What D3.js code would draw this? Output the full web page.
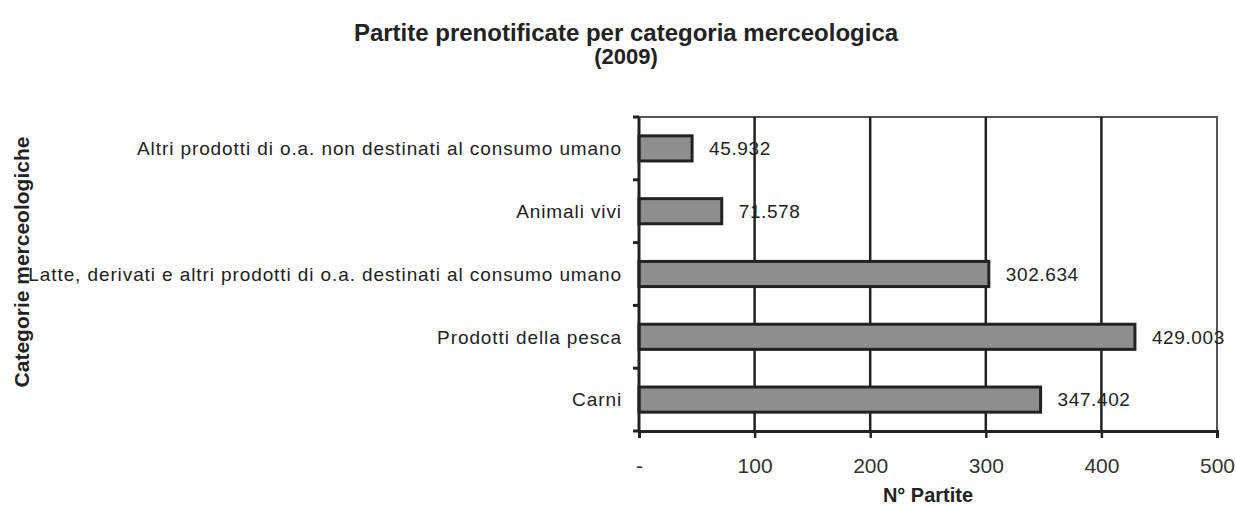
<!DOCTYPE html>
<html>
<head>
<meta charset="utf-8">
<script src="https://cdn.jsdelivr.net/npm/d3@7"></script>
<style>
  body { margin: 0; background: #fff; }
  svg { font-family: "Liberation Sans", Arial, sans-serif; }
</style>
</head>
<body>
<div id="chart"></div>
<script>
// categories top to bottom, values in thousands of consignments
const categories = [
  'Altri prodotti di o.a. non destinati al consumo umano',
  'Animali vivi',
  'Latte, derivati e altri prodotti di o.a. destinati al consumo umano',
  'Prodotti della pesca',
  'Carni'
]
const values = [45.932, 71.578, 302.634, 429.003, 347.402]
const valueLabels = ['45.932', '71.578', '302.634', '429.003', '347.402']
const xTicks = [0, 100, 200, 300, 400, 500]
const xTickLabels = ['-', '100', '200', '300', '400', '500']

const width = 1236
const height = 508
const margin = { top: 117, right: 19, bottom: 77, left: 639 }
const ink = '#222'

const svg = d3.select('#chart')
  .append('svg')
  .attr('width', width)
  .attr('height', height)

const x = d3.scaleLinear()
  .domain([0, 500])
  .range([margin.left, width - margin.right])

const y = d3.scaleBand()
  .domain(categories)
  .range([margin.top, height - margin.bottom])
  .paddingInner(0.6)
  .paddingOuter(0.3)

const yEdges = d3.scaleBand()
  .domain(categories)
  .range([margin.top, height - margin.bottom])

// title
svg.append('text')
  .attr('x', 626)
  .attr('y', 41)
  .attr('text-anchor', 'middle')
  .attr('font-size', 24)
  .attr('font-weight', 'bold')
  .attr('fill', ink)
  .text('Partite prenotificate per categoria merceologica')

svg.append('text')
  .attr('x', 626)
  .attr('y', 64)
  .attr('text-anchor', 'middle')
  .attr('font-size', 22)
  .attr('font-weight', 'bold')
  .attr('fill', ink)
  .text('(2009)')

// plot frame
svg.append('rect')
  .attr('x', x(0))
  .attr('y', margin.top)
  .attr('width', x(500) - x(0))
  .attr('height', height - margin.bottom - margin.top)
  .attr('fill', 'none')
  .attr('stroke', '#555')
  .attr('stroke-width', 2)

// vertical gridlines
svg.append('g')
  .selectAll('line')
  .data(xTicks.slice(1, -1))
  .enter().append('line')
  .attr('x1', d => x(d))
  .attr('x2', d => x(d))
  .attr('y1', margin.top)
  .attr('y2', height - margin.bottom)
  .attr('stroke', ink)
  .attr('stroke-width', 2.5)

// bars
svg.append('g')
  .selectAll('rect')
  .data(values)
  .enter().append('rect')
  .attr('x', x(0))
  .attr('y', (d, i) => y(categories[i]))
  .attr('width', d => x(d) - x(0))
  .attr('height', y.bandwidth())
  .attr('fill', '#8e8e8e')
  .attr('stroke', ink)
  .attr('stroke-width', 3)

// value labels
svg.append('g')
  .selectAll('text')
  .data(values)
  .enter().append('text')
  .attr('x', d => x(d) + 17)
  .attr('y', (d, i) => y(categories[i]) + y.bandwidth() / 2)
  .attr('dy', '0.36em')
  .attr('font-size', 19)
  .attr('letter-spacing', 0.6)
  .attr('fill', ink)
  .text((d, i) => valueLabels[i])

// x axis
const xAxis = svg.append('g')
  .attr('transform', `translate(0,${height - margin.bottom})`)
  .call(d3.axisBottom(x)
    .tickValues(xTicks)
    .tickFormat((d, i) => xTickLabels[i])
    .tickSize(7)
    .tickPadding(20))

xAxis.select('.domain').attr('stroke', ink).attr('stroke-width', 3)
xAxis.selectAll('.tick line').attr('stroke', ink).attr('stroke-width', 2.5)
xAxis.selectAll('.tick text')
  .attr('font-size', 21)
  .attr('font-family', '"Liberation Sans", Arial, sans-serif')
  .attr('fill', '#333')

// y axis: ticks at category edges, labels at band centres
const yAxis = svg.append('g')
  .attr('transform', `translate(${margin.left},0)`)

yAxis.append('line')
  .attr('x1', 0).attr('x2', 0)
  .attr('y1', margin.top)
  .attr('y2', height - margin.bottom)
  .attr('stroke', ink)
  .attr('stroke-width', 3)

yAxis.selectAll('.edge')
  .data(categories.concat(['end']))
  .enter().append('line')
  .attr('class', 'edge')
  .attr('x1', -6).attr('x2', 0)
  .attr('y1', (d, i) => i < categories.length ? yEdges(d) : height - margin.bottom)
  .attr('y2', (d, i) => i < categories.length ? yEdges(d) : height - margin.bottom)
  .attr('stroke', ink)
  .attr('stroke-width', 3)

yAxis.selectAll('.cat')
  .data(categories)
  .enter().append('text')
  .attr('class', 'cat')
  .attr('x', -17)
  .attr('y', d => yEdges(d) + yEdges.bandwidth() / 2)
  .attr('dy', '0.36em')
  .attr('text-anchor', 'end')
  .attr('font-size', 19)
  .attr('letter-spacing', 0.9)
  .attr('fill', ink)
  .text(d => d)

// axis titles
svg.append('text')
  .attr('x', (x(0) + x(500)) / 2)
  .attr('y', 502)
  .attr('text-anchor', 'middle')
  .attr('font-size', 20)
  .attr('font-weight', 'bold')
  .attr('fill', ink)
  .text('N° Partite')

svg.append('text')
  .attr('transform', `translate(29,${(margin.top + height - margin.bottom) / 2 - 12}) rotate(-90)`)
  .attr('text-anchor', 'middle')
  .attr('font-size', 21)
  .attr('font-weight', 'bold')
  .attr('fill', ink)
  .text('Categorie merceologiche')
</script>
</body>
</html>
